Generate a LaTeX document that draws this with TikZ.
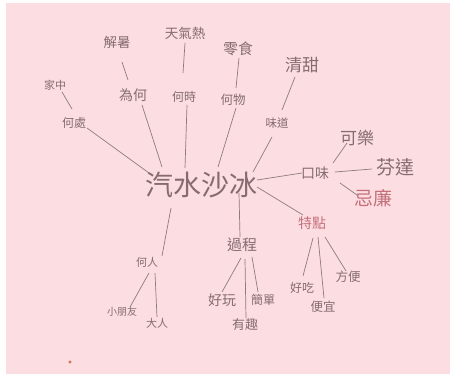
\documentclass[tikz,border=0pt]{standalone}
\usepackage{fontspec}
\newfontfamily\cjk{Noto Sans CJK TC}
\definecolor{paper}{RGB}{252,221,226}
\definecolor{ink}{RGB}{132,108,112}
\definecolor{pen}{RGB}{140,124,127}
\definecolor{redink}{RGB}{196,112,122}
\definecolor{speck}{RGB}{205,115,85}
\begin{document}
\begin{tikzpicture}[x=1pt,y=-1pt,
  lbl/.style={font=\cjk\fontsize{#1}{#1}\selectfont, text=ink, inner sep=0pt},
  lbl/.default=12,
  link/.style={draw=pen, line width=0.7pt}]
\fill[white] (0,0) rectangle (450,383);
\fill[paper] (6,3) rectangle (450,374);
\useasboundingbox (0,0) rectangle (450,383);
% centre
\node[lbl=28] (c) at (201,185) {汽水沙冰};
% level 1
\node[lbl=12] (hc) at (74,123) {何處};
\node[lbl=14] (wh) at (133,95) {為何};
\node[lbl=12] (hs) at (184,97) {何時};
\node[lbl=12.5] (hw) at (233,100) {何物};
\node[lbl=11.5] (wd) at (277,123) {味道};
\node[lbl=14] (kw) at (315,173) {口味};
\node[lbl=14, text=redink] (td) at (312,223) {特點};
\node[lbl=15] (gc) at (242,245) {過程};
\node[lbl=11] (hr) at (147,262) {何人};
% level 2
\node[lbl=11] (jz) at (55,85) {家中};
\node[lbl=13.5] (js) at (117,42) {解暑};
\node[lbl=13.5] (tq) at (185,33) {天氣熱};
\node[lbl=15] (ls) at (238,49) {零食};
\node[lbl=17] (qt) at (302,65) {清甜};
\node[lbl=17] (kl) at (357,138) {可樂};
\node[lbl=19] (fd) at (395,167) {芬達};
\node[lbl=19, text=redink] (gl) at (373,198) {忌廉};
\node[lbl=12] (hch) at (302,288) {好吃};
\node[lbl=12.5] (py) at (323,307) {便宜};
\node[lbl=12.5] (fb) at (348,277) {方便};
\node[lbl=14] (hwn) at (222,300) {好玩};
\node[lbl=13] (yq) at (245,325) {有趣};
\node[lbl=12] (jd) at (263,300) {簡單};
\node[lbl=10] (xpy) at (122,312) {小朋友};
\node[lbl=11] (dr) at (157,323) {大人};
% paper speck
\fill[speck] (70,362) circle (1.6);
% connectors from centre
\draw[link] ([shift={(-52,-12)}]c.center) -- ([shift={(13,5)}]hc.center);
\draw[link] ([shift={(-39,-18)}]c.center) -- ([shift={(9,10)}]wh.center);
\draw[link] ([shift={(-16,-17)}]c.center) -- ([shift={(3,8)}]hs.center);
\draw[link] ([shift={(17,-18)}]c.center) -- ([shift={(3,8)}]hw.center);
\draw[link] ([shift={(52,-13)}]c.center) -- ([shift={(-5,14)}]wd.center);
\draw[link] ([shift={(56,-5)}]c.center) -- ([shift={(-13,0)}]kw.center);
\draw[link] ([shift={(56,2)}]c.center) -- ([shift={(-9,-8)}]td.center);
\draw[link] ([shift={(38,8)}]c.center) -- ([shift={(-2,-8)}]gc.center);
\draw[link] ([shift={(-30,23)}]c.center) -- ([shift={(15,-6)}]hr.center);
% second level
\draw[link] ([shift={(-2,-14)}]hc.center) -- ([shift={(7,7)}]jz.center);
\draw[link] ([shift={(-5,-15)}]wh.center) -- ([shift={(5,20)}]js.center);
\draw[link] ([shift={(-1,-24)}]hs.center) -- ([shift={(0,10)}]tq.center);
\draw[link] ([shift={(3,-12)}]hw.center) -- ([shift={(1,9)}]ls.center);
\draw[link] ([shift={(5,-13)}]wd.center) -- ([shift={(-7,12)}]qt.center);
\draw[link] ([shift={(18,-10)}]kw.center) -- ([shift={(-10,5)}]kl.center);
\draw[link] ([shift={(20,-1)}]kw.center) -- ([shift={(-23,2)}]fd.center);
\draw[link] ([shift={(25,10)}]kw.center) -- ([shift={(-16,-3)}]gl.center);
\draw[link] ([shift={(1,15)}]td.center) -- ([shift={(1,-12)}]hch.center);
\draw[link] ([shift={(6,14)}]td.center) -- ([shift={(1,-9)}]py.center);
\draw[link] ([shift={(13,14)}]td.center) -- ([shift={(-2,-6)}]fb.center);
\draw[link] ([shift={(-1,13)}]gc.center) -- ([shift={(0,-8)}]hwn.center);
\draw[link] ([shift={(3,14)}]gc.center) -- ([shift={(1,-7)}]yq.center);
\draw[link] ([shift={(10,12)}]gc.center) -- ([shift={(-5,-8)}]jd.center);
\draw[link] ([shift={(2,11)}]hr.center) -- ([shift={(8,-5)}]xpy.center);
\draw[link] ([shift={(8,11)}]hr.center) -- ([shift={(0,-6)}]dr.center);
\end{tikzpicture}
\end{document}
